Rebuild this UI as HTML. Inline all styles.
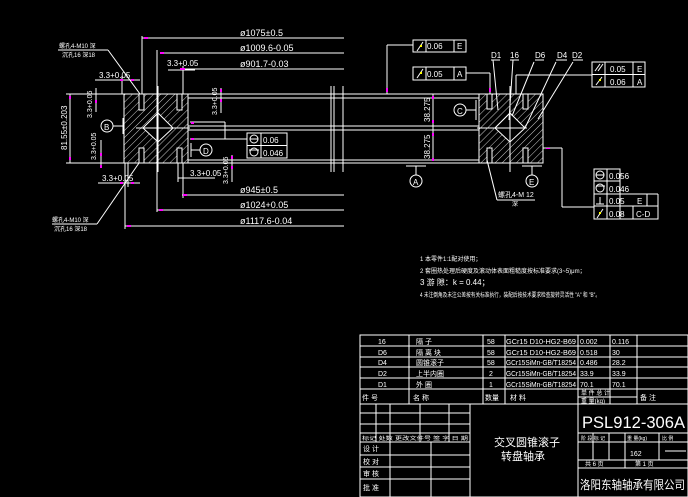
<!DOCTYPE html>
<html><head><meta charset="utf-8"><style>
html,body{margin:0;padding:0;background:#000;width:688px;height:497px;overflow:hidden}
svg{display:block}
text{fill:#fff;font-family:"Liberation Sans","Noto Sans CJK SC",sans-serif}
</style></head><body>
<svg width="688" height="497" viewBox="0 0 688 497" xmlns="http://www.w3.org/2000/svg">
<defs>
<pattern id="h" width="5" height="5" patternUnits="userSpaceOnUse" patternTransform="rotate(45)">
<line x1="0" y1="0" x2="0" y2="5" stroke="#fff" stroke-width="0.8"/></pattern>
</defs>
<rect width="688" height="497" fill="#000"/>
<g stroke="#fff" stroke-width="1" fill="none">
<line x1="66" y1="94" x2="543" y2="94"/><line x1="188" y1="98" x2="479" y2="98"/>
<line x1="188" y1="126" x2="479" y2="126"/><line x1="188" y1="130" x2="479" y2="130"/>
<line x1="188" y1="160" x2="479" y2="160"/><line x1="66" y1="163" x2="543" y2="163"/>
<line x1="331" y1="86" x2="331" y2="172"/><line x1="334" y1="86" x2="334" y2="172"/><line x1="343" y1="86" x2="343" y2="172"/>
<rect x="124" y="94" width="64" height="69" fill="url(#h)"/>
<polygon points="143,128 158,113 173,128 158,142" fill="#000"/>
<line x1="158" y1="86" x2="158" y2="172"/><line x1="136" y1="128" x2="190" y2="128"/>
<rect x="139" y="94" width="5" height="16" fill="#000"/><rect x="177" y="94" width="5" height="16" fill="#000"/>
<rect x="139" y="148" width="5" height="15" fill="#000"/><rect x="177" y="148" width="5" height="15" fill="#000"/>
<rect x="479" y="94" width="64" height="69" fill="url(#h)"/>
<polygon points="495,128 510,113 525,128 510,142" fill="#000"/>
<line x1="510" y1="86" x2="510" y2="172"/><line x1="477" y1="128" x2="527" y2="128"/>
<rect x="487" y="94" width="5" height="15" fill="#000"/><rect x="523" y="94" width="5" height="15" fill="#000"/>
<rect x="487" y="148" width="5" height="15" fill="#000"/><rect x="523" y="148" width="5" height="15" fill="#000"/>
<line x1="142" y1="38" x2="344" y2="38"/><line x1="142" y1="36" x2="142" y2="94"/>
<line x1="160" y1="53" x2="344" y2="53"/><line x1="157" y1="50" x2="157" y2="212"/>
<line x1="180" y1="69" x2="344" y2="69"/><line x1="183" y1="66" x2="183" y2="94"/>
<line x1="182" y1="195" x2="344" y2="195"/><line x1="183" y1="163" x2="183" y2="198"/>
<line x1="157" y1="210" x2="344" y2="210"/>
<line x1="125" y1="226" x2="344" y2="226"/><line x1="125" y1="163" x2="125" y2="229"/>
<line x1="70" y1="94" x2="70" y2="163"/>
<line x1="95" y1="80" x2="140" y2="80"/><line x1="122" y1="76" x2="122" y2="94"/>
<line x1="98" y1="183" x2="140" y2="183"/><line x1="128" y1="163" x2="128" y2="187"/>
<line x1="96" y1="88" x2="96" y2="112"/><line x1="101" y1="140" x2="101" y2="168"/>
<line x1="168" y1="70" x2="195" y2="70"/>
<line x1="178" y1="178" x2="215" y2="178"/><line x1="178" y1="163" x2="178" y2="182"/>
<line x1="221" y1="88" x2="221" y2="113"/><line x1="232" y1="155" x2="232" y2="182"/>
<line x1="190" y1="122" x2="225" y2="122"/><line x1="225" y1="122" x2="225" y2="139"/><line x1="190" y1="139" x2="247" y2="139"/>
<line x1="123" y1="118" x2="123" y2="134"/><line x1="113" y1="126" x2="123" y2="126"/>
<circle cx="107" cy="126" r="6"/>
<line x1="191" y1="143" x2="191" y2="157"/><line x1="191" y1="150" x2="200" y2="150"/>
<circle cx="206" cy="150" r="6"/>
<rect x="247" y="133" width="40" height="25"/><line x1="247" y1="145.5" x2="287" y2="145.5"/><line x1="261" y1="133" x2="261" y2="158"/>
<circle cx="254" cy="139" r="4"/><line x1="250" y1="139" x2="258" y2="139"/>
<circle cx="254" cy="152" r="4"/><line x1="249" y1="150" x2="259" y2="150"/>
<line x1="58" y1="50" x2="108" y2="50"/><line x1="108" y1="50" x2="140" y2="94"/>
<line x1="52" y1="224" x2="97" y2="224"/><line x1="97" y1="224" x2="139" y2="163"/>
<rect x="413" y="40" width="53" height="12"/><line x1="426" y1="40" x2="426" y2="52"/><line x1="454" y1="40" x2="454" y2="52"/>
<line x1="387" y1="45" x2="413" y2="45"/><line x1="387" y1="45" x2="387" y2="94"/>
<rect x="413" y="67" width="53" height="13"/><line x1="426" y1="67" x2="426" y2="80"/><line x1="454" y1="67" x2="454" y2="80"/>
<line x1="466" y1="73" x2="490" y2="73"/><line x1="490" y1="73" x2="490" y2="94"/>
<line x1="417" y1="78" x2="423" y2="69"/><line x1="417" y1="51" x2="423" y2="42"/>
<rect x="592" y="62" width="53" height="25"/><line x1="592" y1="74.5" x2="645" y2="74.5"/><line x1="605" y1="62" x2="605" y2="87"/><line x1="633" y1="62" x2="633" y2="87"/>
<line x1="516" y1="75" x2="592" y2="75"/><line x1="516" y1="75" x2="516" y2="94"/>
<line x1="595" y1="71" x2="600" y2="64"/><line x1="598" y1="71" x2="603" y2="64"/><line x1="596" y1="85" x2="602" y2="77"/>
<line x1="433" y1="94" x2="433" y2="160"/>
<line x1="476" y1="100" x2="476" y2="120"/><line x1="466" y1="110" x2="476" y2="110"/><circle cx="460" cy="110" r="6"/>
<line x1="406" y1="166" x2="426" y2="166"/><line x1="416" y1="166" x2="416" y2="175"/><circle cx="416" cy="181" r="6"/>
<line x1="522" y1="166" x2="542" y2="166"/><line x1="532" y1="166" x2="532" y2="175"/><circle cx="532" cy="181" r="6"/>
<line x1="543" y1="148" x2="562" y2="148"/><line x1="562" y1="148" x2="562" y2="207"/><line x1="562" y1="207" x2="594" y2="207"/>
<rect x="594" y="169" width="26" height="37"/><line x1="594" y1="181" x2="620" y2="181"/><line x1="594" y1="194" x2="658" y2="194"/>
<line x1="607" y1="169" x2="607" y2="219"/><line x1="594" y1="194" x2="594" y2="219"/>
<rect x="594" y="206" width="64" height="13"/><line x1="620" y1="194" x2="620" y2="219"/><line x1="647" y1="194" x2="647" y2="206"/><line x1="633" y1="206" x2="633" y2="219"/>
<line x1="658" y1="194" x2="658" y2="206"/>
<circle cx="600" cy="175" r="4"/><line x1="596" y1="175" x2="604" y2="175"/>
<circle cx="600" cy="188" r="4"/><line x1="596" y1="186" x2="605" y2="186"/>
<line x1="600" y1="197" x2="600" y2="204"/><line x1="596" y1="204" x2="604" y2="204"/>
<line x1="597" y1="218" x2="603" y2="209"/>
<line x1="491" y1="60" x2="500" y2="60"/><line x1="493" y1="60" x2="498" y2="110"/>
<line x1="510" y1="60" x2="519" y2="60"/><line x1="513" y1="60" x2="509" y2="120"/>
<line x1="535" y1="60" x2="544" y2="60"/><line x1="534" y1="62" x2="512" y2="116"/>
<line x1="556" y1="60" x2="567" y2="60"/><line x1="556" y1="62" x2="525" y2="128"/>
<line x1="573" y1="60" x2="583" y2="60"/><line x1="573" y1="62" x2="538" y2="119"/>
<line x1="497" y1="200" x2="535" y2="200"/><line x1="497" y1="200" x2="487" y2="160"/>
<rect x="360" y="335" width="328" height="162"/>
<line x1="360" y1="346" x2="688" y2="346"/><line x1="360" y1="357" x2="688" y2="357"/>
<line x1="360" y1="367" x2="688" y2="367"/><line x1="360" y1="378" x2="688" y2="378"/>
<line x1="360" y1="389" x2="688" y2="389"/><line x1="360" y1="404" x2="688" y2="404"/>
<line x1="409" y1="335" x2="409" y2="404"/><line x1="483" y1="335" x2="483" y2="404"/>
<line x1="505" y1="335" x2="505" y2="404"/><line x1="578" y1="335" x2="578" y2="497"/>
<line x1="610" y1="335" x2="610" y2="404"/><line x1="637" y1="335" x2="637" y2="404"/>
<line x1="578" y1="397" x2="637" y2="397"/>
<line x1="470" y1="404" x2="470" y2="497"/>
<line x1="360" y1="413" x2="470" y2="413"/><line x1="360" y1="424" x2="470" y2="424"/>
<line x1="360" y1="433" x2="470" y2="433"/><line x1="360" y1="442" x2="470" y2="442"/>
<line x1="360" y1="455" x2="470" y2="455"/><line x1="360" y1="467" x2="470" y2="467"/>
<line x1="360" y1="479" x2="470" y2="479"/>
<line x1="376" y1="404" x2="376" y2="442"/><line x1="390" y1="404" x2="390" y2="497"/>
<line x1="420" y1="404" x2="420" y2="442"/><line x1="431" y1="442" x2="431" y2="497"/><line x1="449" y1="404" x2="449" y2="442"/>
<line x1="578" y1="433" x2="688" y2="433"/><line x1="578" y1="442" x2="688" y2="442"/>
<line x1="578" y1="460" x2="688" y2="460"/><line x1="578" y1="468" x2="688" y2="468"/>
<line x1="593" y1="433" x2="593" y2="460"/><line x1="609" y1="433" x2="609" y2="460"/>
<line x1="625" y1="433" x2="625" y2="468"/><line x1="659" y1="433" x2="659" y2="460"/>
<line x1="665" y1="451" x2="686" y2="451"/>
</g>
<g fill="#f0f">
<rect x="144" y="37" width="4" height="2"/><rect x="160" y="52" width="4" height="2"/><rect x="180" y="68" width="5" height="2"/>
<rect x="183" y="194" width="4" height="2"/><rect x="159" y="209" width="4" height="2"/><rect x="127" y="225" width="4" height="2"/>
<rect x="69" y="96" width="2" height="3"/><rect x="69" y="157" width="2" height="3"/>
<rect x="120" y="79" width="3" height="2"/><rect x="131" y="79" width="3" height="2"/><rect x="120" y="182" width="3" height="2"/><rect x="131" y="182" width="3" height="2"/>
<rect x="95" y="100" width="2" height="3"/><rect x="100" y="153" width="2" height="3"/><rect x="100" y="165" width="2" height="3"/>
<rect x="220" y="89" width="2" height="3"/><rect x="220" y="99" width="2" height="3"/><rect x="231" y="156" width="2" height="3"/><rect x="231" y="166" width="2" height="3"/>
<rect x="191" y="122" width="3" height="2"/><rect x="191" y="138" width="3" height="2"/>
<rect x="386" y="88" width="2" height="4"/><rect x="489" y="88" width="2" height="4"/>
<rect x="432" y="96" width="2" height="3"/><rect x="432" y="120" width="2" height="3"/><rect x="432" y="133" width="2" height="3"/><rect x="432" y="158" width="2" height="3"/>
<rect x="546" y="148" width="4" height="1"/>
</g>
<g fill="#ff0"><rect x="420" y="72" width="2" height="2"/><rect x="420" y="45" width="2" height="2"/><rect x="599" y="79" width="2" height="2"/><rect x="599" y="212" width="2" height="2"/></g>
<g font-size="9">
<text x="240" y="36">ø1075±0.5</text>
<text x="240" y="51">ø1009.6-0.05</text>
<text x="240" y="67">ø901.7-0.03</text>
<text x="240" y="193">ø945±0.5</text>
<text x="240" y="208">ø1024+0.05</text>
<text x="240" y="224">ø1117.6-0.04</text>
<text x="167" y="66" font-size="8">3.3+0.05</text>
<text x="99" y="78" font-size="8">3.3+0.05</text>
<text x="102" y="181" font-size="8">3.3+0.05</text>
<text x="190" y="176" font-size="8">3.3+0.05</text>
<text x="104" y="130" font-size="8">B</text>
<text x="203" y="154" font-size="8">D</text>
<text x="263" y="143" font-size="8">0.06</text>
<text x="263" y="156" font-size="8">0.046</text>
<text x="457" y="114" font-size="8">C</text>
<text x="413" y="185" font-size="8">A</text>
<text x="529" y="185" font-size="8">E</text>
<text x="427" y="49" font-size="8">0.06</text><text x="457" y="49" font-size="8">E</text>
<text x="427" y="77" font-size="8">0.05</text><text x="457" y="77" font-size="8">A</text>
<text x="610" y="72" font-size="8">0.05</text><text x="637" y="72" font-size="8">E</text>
<text x="610" y="85" font-size="8">0.06</text><text x="637" y="85" font-size="8">A</text>
<text x="609" y="179" font-size="8">0.056</text>
<text x="609" y="192" font-size="8">0.046</text>
<text x="609" y="204" font-size="8">0.05</text><text x="637" y="204" font-size="8">E</text>
<text x="609" y="217" font-size="8">0.08</text><text x="636" y="217" font-size="8">C-D</text>
<text x="491" y="58" font-size="8">D1</text><text x="510" y="58" font-size="8">16</text>
<text x="535" y="58" font-size="8">D6</text><text x="557" y="58" font-size="8">D4</text><text x="572" y="58" font-size="8">D2</text>
<text x="498" y="197" font-size="7">螺孔4-M 12</text><text x="512" y="206" font-size="6">深</text>
<text x="59" y="48" font-size="6">螺孔4-M10 深</text><text x="62" y="57" font-size="6">沉孔16 深18</text>
<text x="52" y="222" font-size="6">螺孔4-M10 深</text><text x="54" y="231" font-size="6">沉孔16 深18</text>
<text transform="translate(67,150) rotate(-90)" font-size="8">81.55±0.203</text>
<text transform="translate(92,118) rotate(-90)" font-size="7">3.3+0.05</text>
<text transform="translate(96,160) rotate(-90)" font-size="7">3.3+0.05</text>
<text transform="translate(217,115) rotate(-90)" font-size="7">3.3+0.05</text>
<text transform="translate(228,184) rotate(-90)" font-size="7">3.3+0.05</text>
<text transform="translate(430,122) rotate(-90)" font-size="8">38.275</text>
<text transform="translate(430,159) rotate(-90)" font-size="8">38.275</text>
</g>
<g font-size="6">
<text x="420" y="261">1  本零件1:1配对使用；</text>
<text x="420" y="273">2  套圈热处理后硬度及滚动体表面粗糙度按标准要求(3~5)μm；</text>
<text x="420" y="285" font-size="8">3  游 隙：k = 0.44；</text>
<text x="420" y="297" textLength="180" lengthAdjust="spacingAndGlyphs">4  未注倒角及未注公差按有关标准执行，装配后按技术要求检查旋转灵活性 "A" 和 "B"。</text>
</g>
<g font-size="7">
<text x="378" y="344">16</text><text x="416" y="344">隔  子</text><text x="487" y="344">58</text><text x="506" y="344" textLength="70" lengthAdjust="spacingAndGlyphs">GCr15 D10-HG2-B69</text><text x="580" y="344">0.002</text><text x="612" y="344">0.116</text>
<text x="378" y="355">D6</text><text x="416" y="355">隔  离  块</text><text x="487" y="355">58</text><text x="506" y="355" textLength="70" lengthAdjust="spacingAndGlyphs">GCr15 D10-HG2-B69</text><text x="580" y="355">0.518</text><text x="612" y="355">30</text>
<text x="378" y="365">D4</text><text x="416" y="365">圆锥滚子</text><text x="487" y="365">58</text><text x="506" y="365" textLength="70" lengthAdjust="spacingAndGlyphs">GCr15SiMn-GB/T18254</text><text x="580" y="365">0.486</text><text x="612" y="365">28.2</text>
<text x="378" y="376">D2</text><text x="416" y="376">上半内圈</text><text x="489" y="376">2</text><text x="506" y="376" textLength="70" lengthAdjust="spacingAndGlyphs">GCr15SiMn-GB/T18254</text><text x="580" y="376">33.9</text><text x="612" y="376">33.9</text>
<text x="378" y="387">D1</text><text x="416" y="387">外  圈</text><text x="489" y="387">1</text><text x="506" y="387" textLength="70" lengthAdjust="spacingAndGlyphs">GCr15SiMn-GB/T18254</text><text x="580" y="387">70.1</text><text x="612" y="387">70.1</text>
<text x="362" y="400">件    号</text><text x="413" y="400">名              称</text><text x="485" y="400">数量</text><text x="510" y="400">材              料</text><text x="581" y="395" font-size="6">单 件  总 计</text><text x="581" y="403" font-size="6">重  量(kg)</text><text x="640" y="400">备      注</text>
<text x="362" y="440" font-size="5" textLength="106" lengthAdjust="spacingAndGlyphs">标记 处数 更改文件号 签 字 日 期</text>
<text x="363" y="451">设 计</text><text x="363" y="464">校 对</text><text x="363" y="476">审 核</text><text x="363" y="490">批 准</text>
<text x="581" y="440" font-size="5">阶 段 标 记</text><text x="627" y="440" font-size="5" fill="#f0f">重 量(kg)</text><text x="662" y="440" font-size="5">比 例</text>
<text x="630" y="456">162</text>
<text x="585" y="466" font-size="6">共  6  页</text><text x="635" y="466" font-size="6">第  1  页</text>
</g>
<text x="494" y="446" font-size="11">交叉圆锥滚子</text>
<text x="501" y="460" font-size="11">转盘轴承</text>
<text x="582" y="428" font-size="17" textLength="103" lengthAdjust="spacingAndGlyphs">PSL912-306A</text>
<text x="580" y="489" font-size="12" textLength="105" lengthAdjust="spacingAndGlyphs">洛阳东轴轴承有限公司</text>
</svg>
</body></html>
